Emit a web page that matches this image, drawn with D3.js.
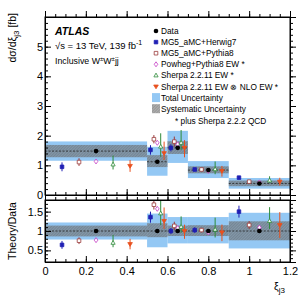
<!DOCTYPE html>
<html>
<head>
<meta charset="utf-8">
<script src="https://cdn.jsdelivr.net/npm/d3@7"></script>
<style>
  body { margin: 0; background: #fff; }
  text { font-family: "Liberation Sans", Arial, sans-serif; }
</style>
</head>
<body>
<script>
// bins in xi_j3
var binEdges = [0, 0.5, 0.6, 0.7, 0.9, 1.2];
var dataVals = [1.48, 1.12, 1.59, 0.84, 0.39];
// relative uncertainties (total / systematic)
var totUp = [0.22, 0.45, 0.36, 0.36, 0.47];
var totDn = [0.22, 0.42, 0.32, 0.32, 0.45];
var sysUp = [0.14, 0.2, 0.14, 0.15, 0.25];
var sysDn = [0.14, 0.16, 0.13, 0.13, 0.24];

var herwig = [0.95, 1.52, 1.59, 0.86, 0.585];
var herwigErr = [0.15, 0.16, 0.12, 0.06, 0.06];
var pythia = [1.11, 1.88, 1.80, 0.86, 0.45];
var pythiaErr = [0.13, 0.14, 0.17, 0.05, 0.04];
var powheg = [1.13, 1.76, 1.71, 0.81, 0.425];
var powhegErr = [0.04, 0.05, 0.05, 0.03, 0.02];
var sherpa = [1.03, 1.63, 1.76, 0.87, 0.49];
var sherpaUp = [0.30, 0.45, 0.43, 0.26, 0.14];
var sherpaDn = [0.17, 0.34, 0.24, 0.17, 0.08];
var nlo = [0.98, 1.41, 1.59, 0.81, 0.45];
var nloUp = [0.2, 0.39, 0.26, 0.17, 0.13];
var nloDn = [0.2, 0.23, 0.32, 0.19, 0.13];

var legendLabels = ["Data", "MG5_aMC+Herwig7", "MG5_aMC+Pythia8", "Powheg+Pythia8 EW *",
  "Sherpa 2.2.11 EW *", "Sherpa 2.2.11 EW \u2297 NLO EW *", "Total Uncertainty", "Systematic Uncertainty"];

var xTicks = [0, 0.2, 0.4, 0.6, 0.8, 1, 1.2];
var yTicks = [0, 1, 2, 3, 4, 5];
var rTicks = [0.5, 1, 1.5];

var L = 45, R = 290, mainTop = 17, mainBot = 195, ratTop = 200, ratBot = 262;

var svg = d3.select("body").append("svg").attr("width", 307).attr("height", 307);

var x = d3.scaleLinear().domain([0, 1.2]).range([L, R]);
var y = d3.scaleLinear().domain([0, 6]).range([mainBot, mainTop]);
var yr = d3.scaleLinear().domain([0.2, 1.8]).range([ratBot, ratTop]);

var defs = svg.append("defs");
var pat = defs.append("pattern").attr("id", "hatch").attr("patternUnits", "userSpaceOnUse")
  .attr("width", 2).attr("height", 2).attr("patternTransform", "rotate(45)");
pat.append("rect").attr("width", 2).attr("height", 2).attr("fill", "rgba(120,120,120,0.6)");
pat.append("line").attr("x1", 0).attr("y1", 0).attr("x2", 0).attr("y2", 2)
  .attr("stroke", "rgba(60,60,60,0.6)").attr("stroke-width", 0.7);
defs.append("clipPath").attr("id", "clipMain").append("rect")
  .attr("x", L).attr("y", mainTop).attr("width", R - L).attr("height", mainBot - mainTop);
defs.append("clipPath").attr("id", "clipRat").append("rect")
  .attr("x", L).attr("y", ratTop).attr("width", R - L).attr("height", ratBot - ratTop);

var bins = dataVals.map(function (d, i) { return { lo: binEdges[i], hi: binEdges[i + 1], v: d, i: i }; });

var models = [
  { vals: herwig, up: herwigErr, dn: herwigErr, color: "#1f1fb4", shape: "square", fill: true, k: 1 },
  { vals: pythia, up: pythiaErr, dn: pythiaErr, color: "#9b3a3a", shape: "square", fill: false, k: 2 },
  { vals: powheg, up: powhegErr, dn: powhegErr, color: "#c43cc4", shape: "diamond", fill: false, k: 3 },
  { vals: sherpa, up: sherpaUp, dn: sherpaDn, color: "#2e8b3a", shape: "triUp", fill: false, k: 4 },
  { vals: nlo, up: nloUp, dn: nloDn, color: "#e8501e", shape: "triDown", fill: true, k: 5 }
];

function marker(g, shape, cx, cy, color, fill) {
  var s = 1.8, p;
  if (shape === "circle") {
    return g.append("circle").attr("cx", cx).attr("cy", cy).attr("r", 2.3).attr("fill", color);
  }
  if (shape === "square") p = [[cx - s, cy - s], [cx + s, cy - s], [cx + s, cy + s], [cx - s, cy + s]];
  if (shape === "diamond") p = [[cx, cy - 2.5], [cx + 1.8, cy], [cx, cy + 2.5], [cx - 1.8, cy]];
  if (shape === "triUp") p = [[cx, cy - 2.3], [cx + 2.1, cy + 1.5], [cx - 2.1, cy + 1.5]];
  if (shape === "triDown") p = [[cx, cy + 2.3], [cx + 2.3, cy - 1.5], [cx - 2.3, cy - 1.5]];
  return g.append("polygon").attr("points", p.map(function (q) { return q.join(","); }).join(" "))
    .attr("fill", fill ? color : "#fff").attr("stroke", color).attr("stroke-width", 0.8);
}

function panel(yScale, clip, ratio) {
  var g = svg.append("g").attr("clip-path", "url(#" + clip + ")");
  function yv(v, b) { return ratio ? yScale(v / b.v) : yScale(v); }
  // total uncertainty
  g.selectAll("rect.tot").data(bins).enter().append("rect")
    .attr("x", function (b) { return x(b.lo); })
    .attr("width", function (b) { return x(b.hi) - x(b.lo); })
    .attr("y", function (b) { return yv(b.v * (1 + totUp[b.i]), b); })
    .attr("height", function (b) { return yv(b.v * (1 - totDn[b.i]), b) - yv(b.v * (1 + totUp[b.i]), b); })
    .attr("fill", "#94c8f4");
  g.selectAll("rect.sys").data(bins).enter().append("rect")
    .attr("x", function (b) { return x(b.lo); })
    .attr("width", function (b) { return x(b.hi) - x(b.lo); })
    .attr("y", function (b) { return yv(b.v * (1 + sysUp[b.i]), b); })
    .attr("height", function (b) { return yv(b.v * (1 - sysDn[b.i]), b) - yv(b.v * (1 + sysUp[b.i]), b); })
    .attr("fill", "url(#hatch)");
  g.selectAll("line.cen").data(bins).enter().append("line")
    .attr("x1", function (b) { return x(b.lo); })
    .attr("x2", function (b) { return x(b.hi); })
    .attr("y1", function (b) { return yv(b.v, b); })
    .attr("y2", function (b) { return yv(b.v, b); })
    .attr("stroke", "#222").attr("stroke-width", 0.8).attr("stroke-dasharray", "2,1.5");
  // theory predictions
  models.forEach(function (m) {
    bins.forEach(function (b) {
      var cx = x(b.lo + (b.hi - b.lo) * m.k / 6);
      var v = m.vals[b.i];
      g.append("line").attr("x1", cx).attr("x2", cx)
        .attr("y1", yv(v + m.up[b.i], b)).attr("y2", yv(v - m.dn[b.i], b))
        .attr("stroke", m.color).attr("stroke-width", 1);
      marker(g, m.shape, cx, yv(v, b), m.color, m.fill);
    });
  });
  // data
  bins.forEach(function (b) {
    marker(g, "circle", x((b.lo + b.hi) / 2), yv(b.v, b), "#000", true);
  });
}

panel(y, "clipMain", false);
panel(yr, "clipRat", true);

// axes with inward ticks on all sides
function frame(yScale, top, bot, yMajor, yMinorStep, xLabels) {
  var xMinor = d3.range(0, 1.2001, 0.05);
  var d = yScale.domain();
  var yMinor = d3.range(Math.ceil(d[0] / yMinorStep - 1e-6) * yMinorStep, d[1] + 1e-6, yMinorStep);
  var fmt = function (v) { return String(+v.toFixed(2)); };
  [[d3.axisBottom, bot, -6], [d3.axisTop, top, 6]].forEach(function (a, j) {
    svg.append("g").attr("transform", "translate(0," + a[1] + ")")
      .call(a[0](x).tickValues(xMinor).tickSize(a[2] / 2).tickFormat(""));
    var ax = svg.append("g").attr("transform", "translate(0," + a[1] + ")")
      .call(a[0](x).tickValues(xTicks).tickSize(a[2]).tickPadding(5)
        .tickFormat(j === 0 && xLabels ? fmt : ""));
    ax.selectAll("text").attr("font-size", 11).attr("fill", "#000");
  });
  [[d3.axisLeft, L, -6], [d3.axisRight, R, 6]].forEach(function (a, j) {
    svg.append("g").attr("transform", "translate(" + a[1] + ",0)")
      .call(a[0](yScale).tickValues(yMinor).tickSize(a[2] / 2).tickFormat(""));
    var ax = svg.append("g").attr("transform", "translate(" + a[1] + ",0)")
      .call(a[0](yScale).tickValues(yMajor).tickSize(a[2]).tickPadding(2)
        .tickFormat(j === 0 ? fmt : ""));
    ax.selectAll("text").attr("font-size", 11).attr("fill", "#000");
  });
  svg.selectAll(".domain").attr("stroke", "#000");
  svg.append("rect").attr("x", L).attr("y", top).attr("width", R - L).attr("height", bot - top)
    .attr("fill", "none").attr("stroke", "#000").attr("stroke-width", 1);
}
frame(y, mainTop, mainBot, yTicks, 0.2, false);
frame(yr, ratTop, ratBot, rTicks, 0.1, true);

// axis titles
var yt = svg.append("text").attr("transform", "translate(16," + (mainTop - 4) + ") rotate(-90)")
  .attr("text-anchor", "end").attr("font-size", 10.5);
yt.append("tspan").text("d\u03c3/d\u03be");
yt.append("tspan").attr("font-size", 8).attr("dy", 3).text("j3");
yt.append("tspan").attr("dy", -3).text(" [fb]");
svg.append("text").attr("transform", "translate(16," + ((ratTop + ratBot) / 2) + ") rotate(-90)")
  .attr("text-anchor", "middle").attr("font-size", 10.5).text("Theory/Data");
var xt = svg.append("text").attr("x", 285).attr("y", 290).attr("text-anchor", "end").attr("font-size", 10.5);
xt.append("tspan").text("\u03be");
xt.append("tspan").attr("font-size", 8).attr("dy", 3).text("j3");

// ATLAS labels
svg.append("text").attr("x", 55).attr("y", 35).attr("font-size", 10.5)
  .attr("font-weight", "bold").attr("font-style", "italic").text("ATLAS");
var s2 = svg.append("text").attr("x", 55).attr("y", 49).attr("font-size", 9.5);
s2.append("tspan").text("\u221as = 13 TeV, 139 fb");
s2.append("tspan").attr("font-size", 7).attr("dy", -4).text("-1");
var s3 = svg.append("text").attr("x", 55).attr("y", 64).attr("font-size", 8.8);
s3.append("tspan").text("Inclusive W");
s3.append("tspan").attr("font-size", 6).attr("dy", -3).text("\u00b1");
s3.append("tspan").attr("dy", 3).text("W");
s3.append("tspan").attr("font-size", 6).attr("dy", -3).text("\u00b1");
s3.append("tspan").attr("dy", 3).text("jj");

// legend
var lg = svg.append("g");
var ly0 = 31, ldy = 11.1, lx = 156;
legendLabels.forEach(function (t, i) {
  var yy = ly0 + i * ldy;
  if (i === 0) marker(lg, "circle", lx, yy, "#000", true);
  else if (i <= 5) {
    var m = models[i - 1];
    marker(lg, m.shape, lx, yy, m.color, m.fill);
  } else {
    lg.append("rect").attr("x", lx - 4).attr("y", yy - 4.5).attr("width", 8).attr("height", 9)
      .attr("fill", i === 6 ? "#94c8f4" : "url(#hatch)");
  }
  lg.append("text").attr("x", lx + 5).attr("y", yy + 3).attr("font-size", 8.3).text(t);
});
lg.append("text").attr("x", 175).attr("y", ly0 + 8 * ldy + 4).attr("font-size", 8.3).text("* plus Sherpa 2.2.2 QCD");
</script>
</body>
</html>
